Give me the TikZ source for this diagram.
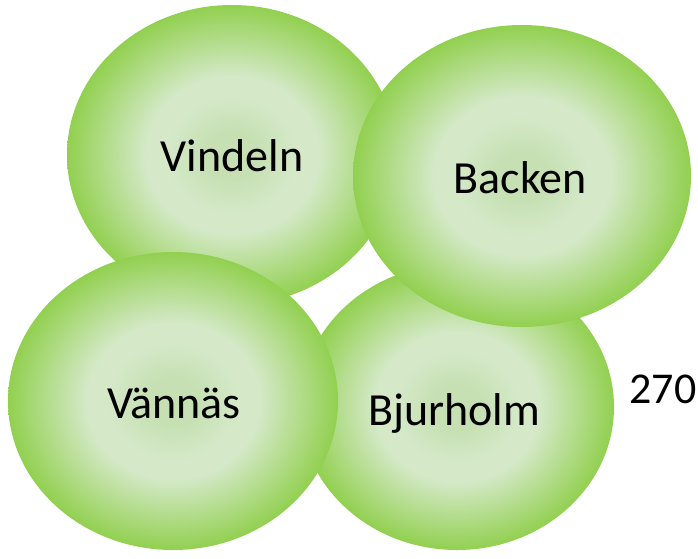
\documentclass[tikz,border=0pt]{standalone}
\usepackage{fontspec}
\setmainfont{Carlito}
\usetikzlibrary{shapes.geometric}
\definecolor{cmid}{HTML}{C6E0B3}
\definecolor{cring}{HTML}{D5E9C9}
\definecolor{cedge}{HTML}{92D050}
\pgfdeclareradialshading{blobshade}{\pgfpoint{0bp}{0bp}}{%
  color(0bp)=(cmid); color(4bp)=(cmid); color(10bp)=(cring); color(13bp)=(cring);
  color(25bp)=(cedge); color(50bp)=(cedge)}
\tikzset{
  blob/.style={ellipse, inner sep=0pt, shading=blobshade, draw=none},
  lbl/.style={anchor=base, inner sep=0pt, font=\fontsize{46}{54}\selectfont, text=black}
}
\begin{document}
\begin{tikzpicture}[x=1pt,y=1pt]
\useasboundingbox (0,0) rectangle (698,558);
% y = 558 - image y
\node[blob, minimum width=330, minimum height=300] (vindeln) at (232,403) {};
\node[blob, minimum width=314, minimum height=286] (bjurholm) at (457,151) {};
\node[blob, minimum width=338, minimum height=302] (backen) at (522,382) {};
\node[blob, minimum width=330, minimum height=298] (vannas) at (173,157) {};
\node[lbl] (tvindeln) at (232,387) {Vindeln};
\node[lbl] (tbacken) at (520,365) {Backen};
\node[lbl] (tvannas) at (174,140) {Vännäs};
\node[lbl] (tbjurholm) at (454,133) {Bjurholm};
\node[lbl, font=\fontsize{44}{52}\selectfont] (t270) at (663,155) {270};
\end{tikzpicture}
\end{document}
